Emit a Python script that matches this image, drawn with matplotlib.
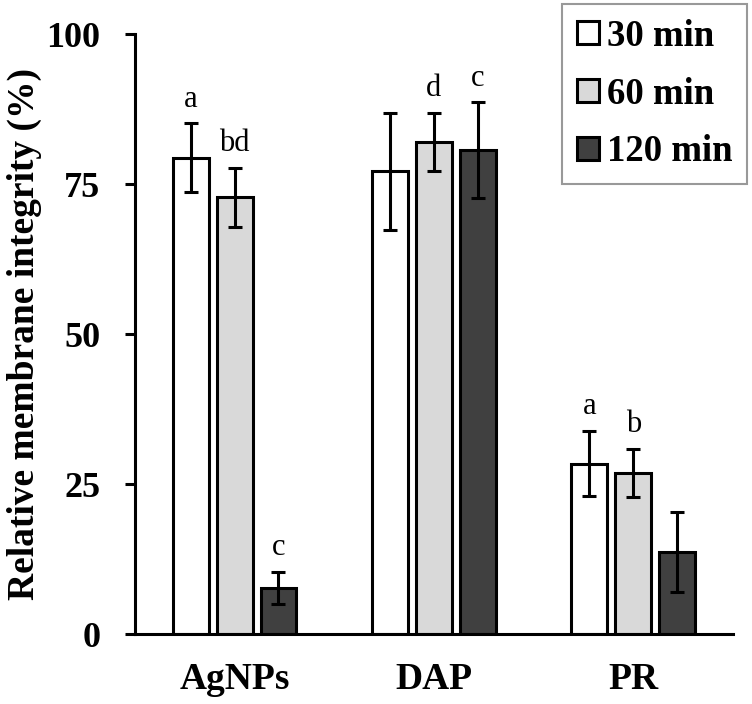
import matplotlib.pyplot as plt
import numpy as np

plt.rcParams["font.family"] = ["Liberation Serif", "DejaVu Serif"]

groups = ["AgNPs", "DAP", "PR"]
series = ["30 min", "60 min", "120 min"]
means = {
    "30 min": [79.4, 77.1, 28.4],
    "60 min": [72.8, 82.0, 26.9],
    "120 min": [7.7, 80.6, 13.7],
}
errors = {
    "30 min": [5.7, 9.8, 5.4],
    "60 min": [4.9, 4.9, 4.0],
    "120 min": [2.7, 8.0, 6.7],
}
letters = {
    "30 min": ["a", "", "a"],
    "60 min": ["bd", "d", "b"],
    "120 min": ["c", "c", ""],
}
colors = ["#ffffff", "#d9d9d9", "#404040"]

fig = plt.figure(figsize=(7.52, 7.04), dpi=100)
ax = fig.add_axes([0.1795, 0.0994, 0.795, 0.8523])

x = np.arange(len(groups))
width = 0.18
step = 0.22
for i, name in enumerate(series):
    pos = x + (i - 1) * step
    ax.bar(pos, means[name], width,
           color=colors[i],
           edgecolor="black",
           linewidth=2.2,
           label=name,
           zorder=2)
    ax.errorbar(pos, means[name], yerr=errors[name],
                fmt="none",
                ecolor="black",
                elinewidth=2.2,
                capsize=5,
                capthick=2.2,
                zorder=3)
    for xp, m, e, t in zip(pos, means[name], errors[name], letters[name]):
        if t:
            ax.annotate(t, (xp, m + e),
                        xytext=(0, 7),
                        textcoords="offset points",
                        ha="center", va="bottom",
                        fontsize=22)

ax.set_xlim(-0.5, 2.5)
ax.set_ylim(0, 100)
ax.set_xticks(x)
ax.set_xticklabels(groups, fontsize=27, fontweight="bold")
ax.set_yticks([0, 25, 50, 75, 100])
ax.set_yticklabels(["0", "25", "50", "75", "100"], fontsize=26, fontweight="bold")
ax.tick_params(axis="y", length=7, width=2.2, pad=18)
ax.tick_params(axis="x", length=0, pad=20)
ax.set_ylabel("Relative membrane integrity (%)", fontsize=27, fontweight="bold")
ax.yaxis.set_label_coords(-0.155, 0.5)

for side in ["top", "right"]:
    ax.spines[side].set_visible(False)
for side in ["left", "bottom"]:
    ax.spines[side].set_linewidth(2.2)

leg = fig.legend(loc="upper right",
                 bbox_to_anchor=(747 / 752, 1 - 4 / 704),
                 borderaxespad=0,
                 fancybox=False,
                 prop={"size": 26.5, "weight": "bold"},
                 handlelength=0.6,
                 handleheight=0.6,
                 handletextpad=0.22,
                 labelspacing=0.62,
                 borderpad=0.4)
leg.get_frame().set_edgecolor("#808080")
leg.get_frame().set_linewidth(1.5)

fig.savefig("out.png", dpi=100)
